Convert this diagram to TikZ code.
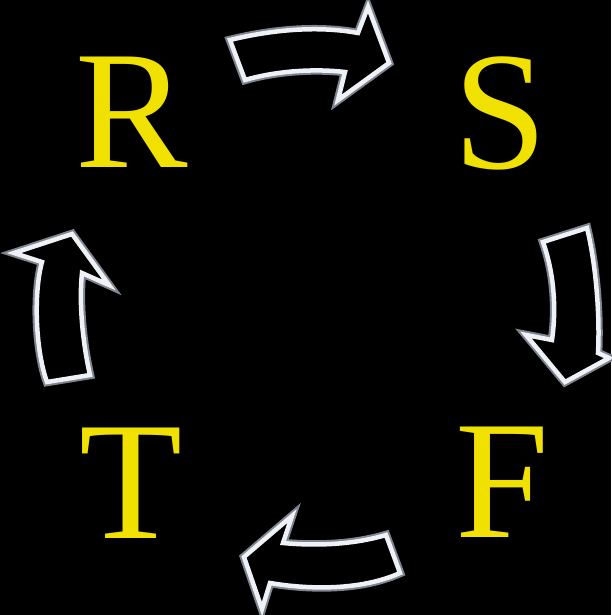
\documentclass[tikz,border=0pt]{standalone}
\usepackage{fontspec}
\setmainfont{Liberation Serif}
\usepackage{tikz}
\definecolor{bg}{HTML}{000000}
\definecolor{letter}{HTML}{F0E100}
\definecolor{rim}{HTML}{EEF2F6}
\definecolor{glow}{HTML}{7E858E}

\begin{document}
\begin{tikzpicture}[x=0.01cm, y=-0.01cm,
    phase/.style={text=letter, inner sep=0pt, font=\fontsize{48}{48}\selectfont},
    blockglow/.style={draw=glow, line width=0.085cm, line join=miter},
    blockarrow/.style={draw=rim, fill=bg, line width=0.045cm, line join=miter},
]
\fill[bg] (0,0) rectangle (611,615);
\useasboundingbox (0,0) rectangle (611,615);

\node[phase] (rtxt) at (132,112) {R};
\node[phase] (stxt) at (500,113) {S};
\node[phase] (ftxt) at (502,482) {F};
\node[phase] (ttxt) at (131,483) {T};

% R -> S
\foreach \sty in {blockglow,blockarrow}
  \draw[\sty] (230,40) .. controls (275,29) and (320,26) .. (358,33)
    -- (368,7) -- (389,63) -- (338,100) -- (345,72)
    .. controls (310,68) and (272,72) .. (245,80) -- cycle;

% S -> F
\foreach \sty in {blockglow,blockarrow}
  \draw[\sty] (543,242) -- (587,228) .. controls (596,265) and (600,315) .. (598,353)
    -- (609,358) -- (565,382) -- (526,335) -- (552,340)
    .. controls (557,305) and (553,270) .. (543,242) -- cycle;

% F -> T
\foreach \sty in {blockglow,blockarrow}
  \draw[\sty] (386,535) .. controls (352,545) and (315,546) .. (283,543)
    -- (292,516) -- (244,557) -- (262,609) -- (270,583)
    .. controls (312,590) and (362,590) .. (400,573) -- cycle;

% T -> R
\foreach \sty in {blockglow,blockarrow}
  \draw[\sty] (47,382) -- (90,375) .. controls (82,340) and (79,300) .. (82,273)
    -- (109,285) -- (72,234) -- (14,253) -- (42,262)
    .. controls (33,295) and (36,352) .. (47,382) -- cycle;

\end{tikzpicture}
\end{document}
